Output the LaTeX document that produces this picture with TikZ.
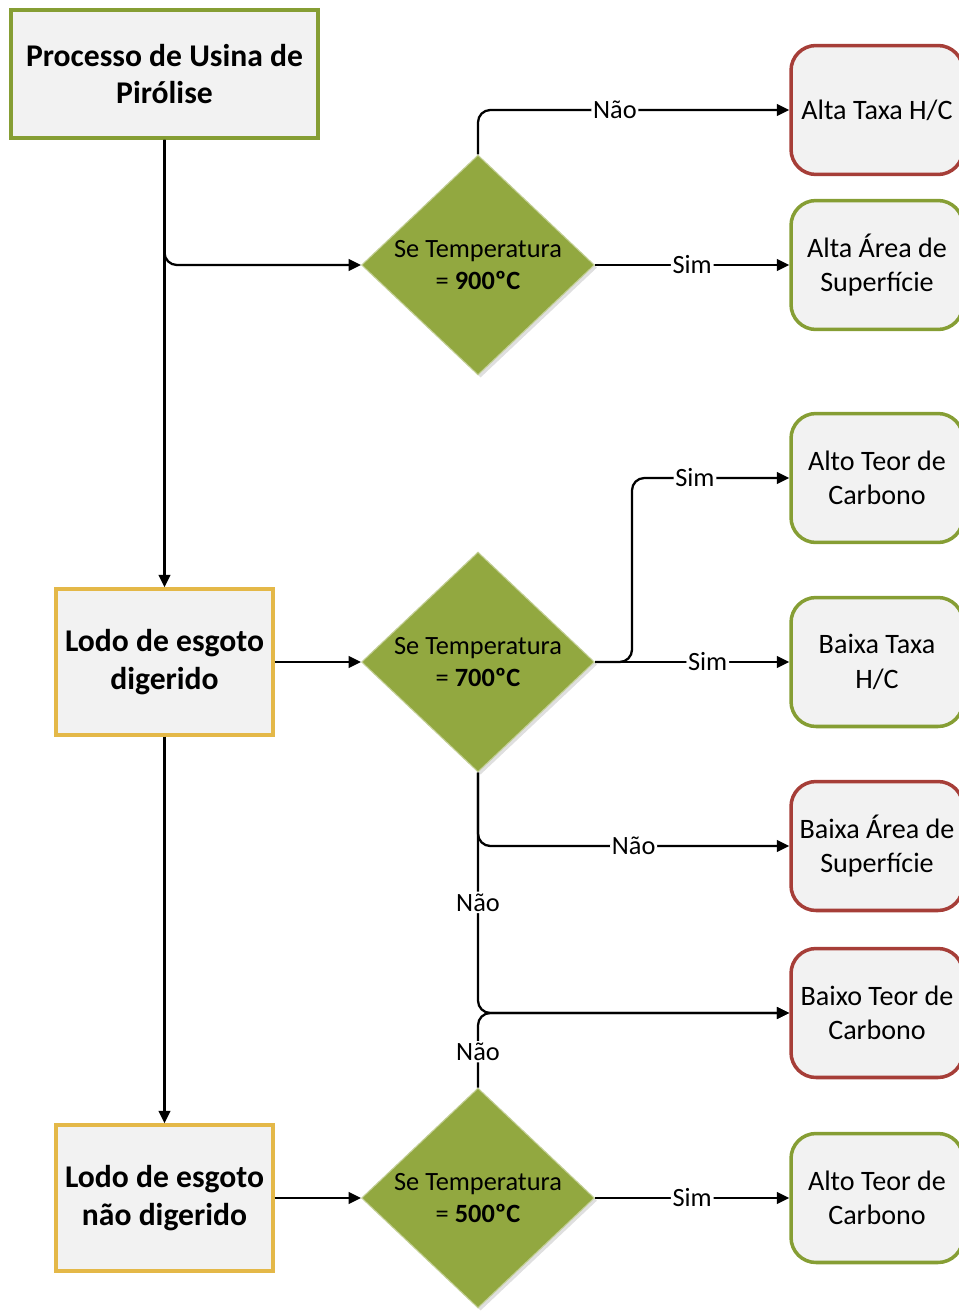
\documentclass[tikz,border=0pt]{standalone}
\usepackage{fontspec}
\setmainfont{Carlito}
\usepackage{xcolor}
\usepackage{tikz}
\usetikzlibrary{arrows.meta,shapes,shadows,positioning,calc}
\definecolor{verde}{RGB}{134,158,52}
\definecolor{vermelho}{RGB}{166,62,56}
\definecolor{ouro}{RGB}{228,184,72}
\definecolor{cinza}{RGB}{242,242,242}
\definecolor{losango}{RGB}{146,168,64}
\begin{document}
\begin{tikzpicture}[x=0.02cm,y=-0.02cm,>={Triangle[length=7pt,width=6.5pt]},
  seta/.style={->,line width=1.3pt,rounded corners=7pt},
  inicio/.style={draw=verde,line width=2pt,fill=cinza,minimum width=6.14cm,minimum height=2.56cm,align=center,font=\fontsize{18}{21.6}\selectfont\bfseries},
  lodo/.style={inicio,draw=ouro,minimum width=4.34cm,minimum height=2.92cm},
  teste/.style={diamond,aspect=1.06,fill=losango,draw=losango!55!white,line width=0.6pt,inner sep=0pt,minimum width=4.66cm,minimum height=4.4cm,align=center,font=\fontsize{15}{18.2}\selectfont,drop shadow={opacity=0.25,shadow xshift=1.5pt,shadow yshift=-1.5pt}},
  saida/.style={rounded corners=0.5cm,line width=2pt,fill=cinza,minimum width=3.44cm,minimum height=2.58cm,align=center,font=\fontsize{16}{19.5}\selectfont},
  bom/.style={saida,draw=verde},
  ruim/.style={saida,draw=vermelho},
  rotulo/.style={fill=white,inner sep=1pt,font=\fontsize{15}{18}\selectfont}]
\useasboundingbox (0,0) rectangle (958,1311);
\node[inicio] (proc) at (164.5,74) {Processo de Usina de\\Pirólise};
\node[lodo] (lodoD) at (164.5,662) {Lodo de esgoto\\digerido};
\node[lodo] (lodoND) at (164.5,1198) {Lodo de esgoto\\não digerido};
\node[teste] (d900) at (478,265) {Se Temperatura\\= \textbf{900ºC}};
\node[teste] (d700) at (478,662) {Se Temperatura\\= \textbf{700ºC}};
\node[teste] (d500) at (478,1198) {Se Temperatura\\= \textbf{500ºC}};
\node[ruim] (altaHC) at (877,110) {Alta Taxa H/C};
\node[bom] (altaArea) at (877,265) {Alta Área de\\Superfície};
\node[bom] (altoTeorA) at (877,478) {Alto Teor de\\Carbono};
\node[bom] (baixaHC) at (877,662) {Baixa Taxa\\H/C};
\node[ruim] (baixaArea) at (877,846) {Baixa Área de\\Superfície};
\node[ruim] (baixoTeor) at (877,1013) {Baixo Teor de\\Carbono};
\node[bom] (altoTeorB) at (877,1198) {Alto Teor de\\Carbono};
\coordinate (s700) at (632,662);
\draw[seta](proc)--(lodoD);
\draw[seta](proc.south)|-(d900);
\draw[seta](d900.north)|-node[rotulo,pos=0.72]{Não}(altaHC);
\draw[seta](d900)--node[rotulo]{Sim}(altaArea);
\draw[seta](lodoD)--(d700);
\draw[seta](d700)--node[rotulo,pos=0.58]{Sim}(baixaHC);
\draw[seta](d700.east)--(s700)|-node[rotulo,pos=0.7]{Sim}(altoTeorA);
\draw[seta](d700.south)|-node[rotulo,pos=0.75]{Não}(baixaArea);
\draw[seta](d700.south)|-node[rotulo,pos=0.27]{Não}(baixoTeor);
\draw[seta](d500.north)|-node[rotulo,pos=0.24]{Não}(baixoTeor);
\draw[seta](lodoD)--(lodoND);
\draw[seta](lodoND)--(d500);
\draw[seta](d500)--node[rotulo]{Sim}(altoTeorB);
\end{tikzpicture}
\end{document}
